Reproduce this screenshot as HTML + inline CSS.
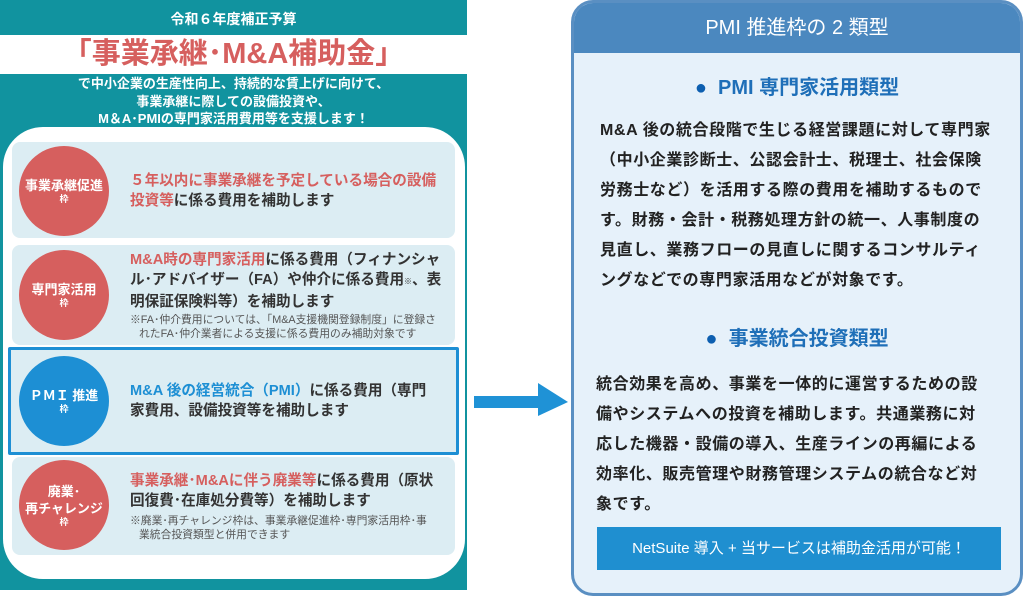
<!DOCTYPE html>
<html><head><meta charset="utf-8"><style>
*{margin:0;padding:0;box-sizing:border-box}
body{width:1024px;height:598px;background:#fff;position:relative;overflow:hidden;font-family:"Liberation Sans","Noto Sans CJK JP",sans-serif}
.a{position:absolute}
.teal{left:0;top:0;width:467px;height:590px;background:#11939f}
.band{left:0;top:35px;width:467px;height:39px;background:#fff}
.inner{left:3px;top:127px;width:462px;height:452px;background:#fff;border-radius:40px}
.box{position:absolute;left:12px;width:443px;background:#dcedf3;border-radius:8px}
.circ{position:absolute;left:19px;width:90px;height:90px;border-radius:50%;background:#d65f5e;color:#fff;font-weight:bold;text-align:center;display:flex;flex-direction:column;justify-content:center;font-size:13px;line-height:17px}
.circ small{font-size:9px;line-height:11px}
.t{position:absolute;left:130px;font-size:14.6px;font-weight:bold;color:#333;line-height:20px;white-space:nowrap}
.r{color:#d65f5e}.b{color:#1d8fd4}
.n{position:absolute;left:130px;font-size:10.8px;color:#555;line-height:14px;white-space:nowrap}
.rp{left:571px;top:0;width:452px;height:596px;border:3px solid #5a8fc2;border-radius:22px;background:#e6f1fa;overflow:hidden}
.rh{position:absolute;left:0;top:0;width:100%;height:50px;background:#4b88bf;color:#fff;font-size:20px;text-align:center;line-height:50px}
.h{position:absolute;left:0;width:100%;text-align:center;font-size:20px;color:#1f6fb8;font-weight:bold;line-height:26px}
.h span{color:#0d5fb0}
.p{position:absolute;left:26px;font-size:16px;line-height:30px;color:#222;font-weight:bold;white-space:nowrap;letter-spacing:0.6px}
</style></head><body>
<div class="a teal"></div>
<div class="a band"></div>
<div class="a" style="left:0;top:9px;width:467px;text-align:center;color:#fff;font-weight:bold;font-size:14px">令和６年度補正予算</div>
<div class="a" style="left:0;top:35px;width:467px;text-align:center;color:#d65f5e;font-weight:bold;font-size:29px;line-height:39px">「事業承継･M&amp;A補助金」</div>
<div class="a" style="left:0;top:75px;width:467px;text-align:center;color:#fff;font-weight:bold;font-size:13px;line-height:17.5px">で中小企業の生産性向上、持続的な賃上げに向けて、<br>事業承継に際しての設備投資や、<br>M＆A･PMIの専門家活用費用等を支援します！</div>
<div class="a inner"></div>
<div class="box" style="top:142px;height:96px"></div>
<div class="circ" style="top:146px">事業承継促進<small>枠</small></div>
<div class="t" style="top:171px"><span class="r">５年以内に事業承継を予定している場合の設備<br>投資等</span>に係る費用を補助します</div>
<div class="box" style="top:245px;height:100px"></div>
<div class="circ" style="top:250px">専門家活用<small>枠</small></div>
<div class="t" style="top:250px"><span class="r">M&amp;A時の専門家活用</span>に係る費用（フィナンシャ<br>ル･アドバイザー（FA）や仲介に係る費用<small style="font-size:8px">※</small>、表<br>明保証保険料等）を補助します</div>
<div class="n" style="top:313px">※FA･仲介費用については、「M&amp;A支援機関登録制度」に登録さ<br>&nbsp;&nbsp;&nbsp;れたFA･仲介業者による支援に係る費用のみ補助対象です</div>
<div class="box" style="top:347px;height:108px;border:3px solid #1d8fd4;border-radius:2px;left:8px;width:451px"></div>
<div class="circ" style="top:356px;background:#1d8fd4">ＰＭＩ 推進<small>枠</small></div>
<div class="t" style="top:381px"><span class="b">M&amp;A 後の経営統合（PMI）</span>に係る費用（専門<br>家費用、設備投資等を補助します</div>
<div class="box" style="top:457px;height:98px"></div>
<div class="circ" style="top:460px">廃業･<br>再チャレンジ<small>枠</small></div>
<div class="t" style="top:471px"><span class="r">事業承継･M&amp;Aに伴う廃業等</span>に係る費用（原状<br>回復費･在庫処分費等）を補助します</div>
<div class="n" style="top:514px">※廃業･再チャレンジ枠は、事業承継促進枠･専門家活用枠･事<br>&nbsp;&nbsp;&nbsp;業統合投資類型と併用できます</div>
<svg class="a" style="left:470px;top:380px" width="100" height="40"><rect x="4" y="16" width="66" height="12" fill="#1f92d6"/><polygon points="68,3 98,22 68,36" fill="#1f92d6"/></svg>
<div class="a rp">
<div class="rh">PMI 推進枠の 2 類型</div>
<div class="h" style="top:72px"><span>●</span>&nbsp; PMI 専門家活用類型</div>
<div class="p" style="top:113px">M&amp;A 後の統合段階で生じる経営課題に対して専門家<br>（中小企業診断士、公認会計士、税理士、社会保険<br>労務士など）を活用する際の費用を補助するもので<br>す。財務・会計・税務処理方針の統一、人事制度の<br>見直し、業務フローの見直しに関するコンサルティ<br>ングなどでの専門家活用などが対象です。</div>
<div class="h" style="top:323px"><span>●</span>&nbsp; 事業統合投資類型</div>
<div class="p" style="top:367px;left:22px">統合効果を高め、事業を一体的に運営するための設<br>備やシステムへの投資を補助します。共通業務に対<br>応した機器・設備の導入、生産ラインの再編による<br>効率化、販売管理や財務管理システムの統合など対<br>象です。</div>
<div style="position:absolute;left:23px;top:524px;width:404px;height:43px;background:#1f8fd0;color:#fff;font-size:15px;text-align:center;line-height:43px">NetSuite 導入 + 当サービスは補助金活用が可能！</div>
</div>
</body></html>
